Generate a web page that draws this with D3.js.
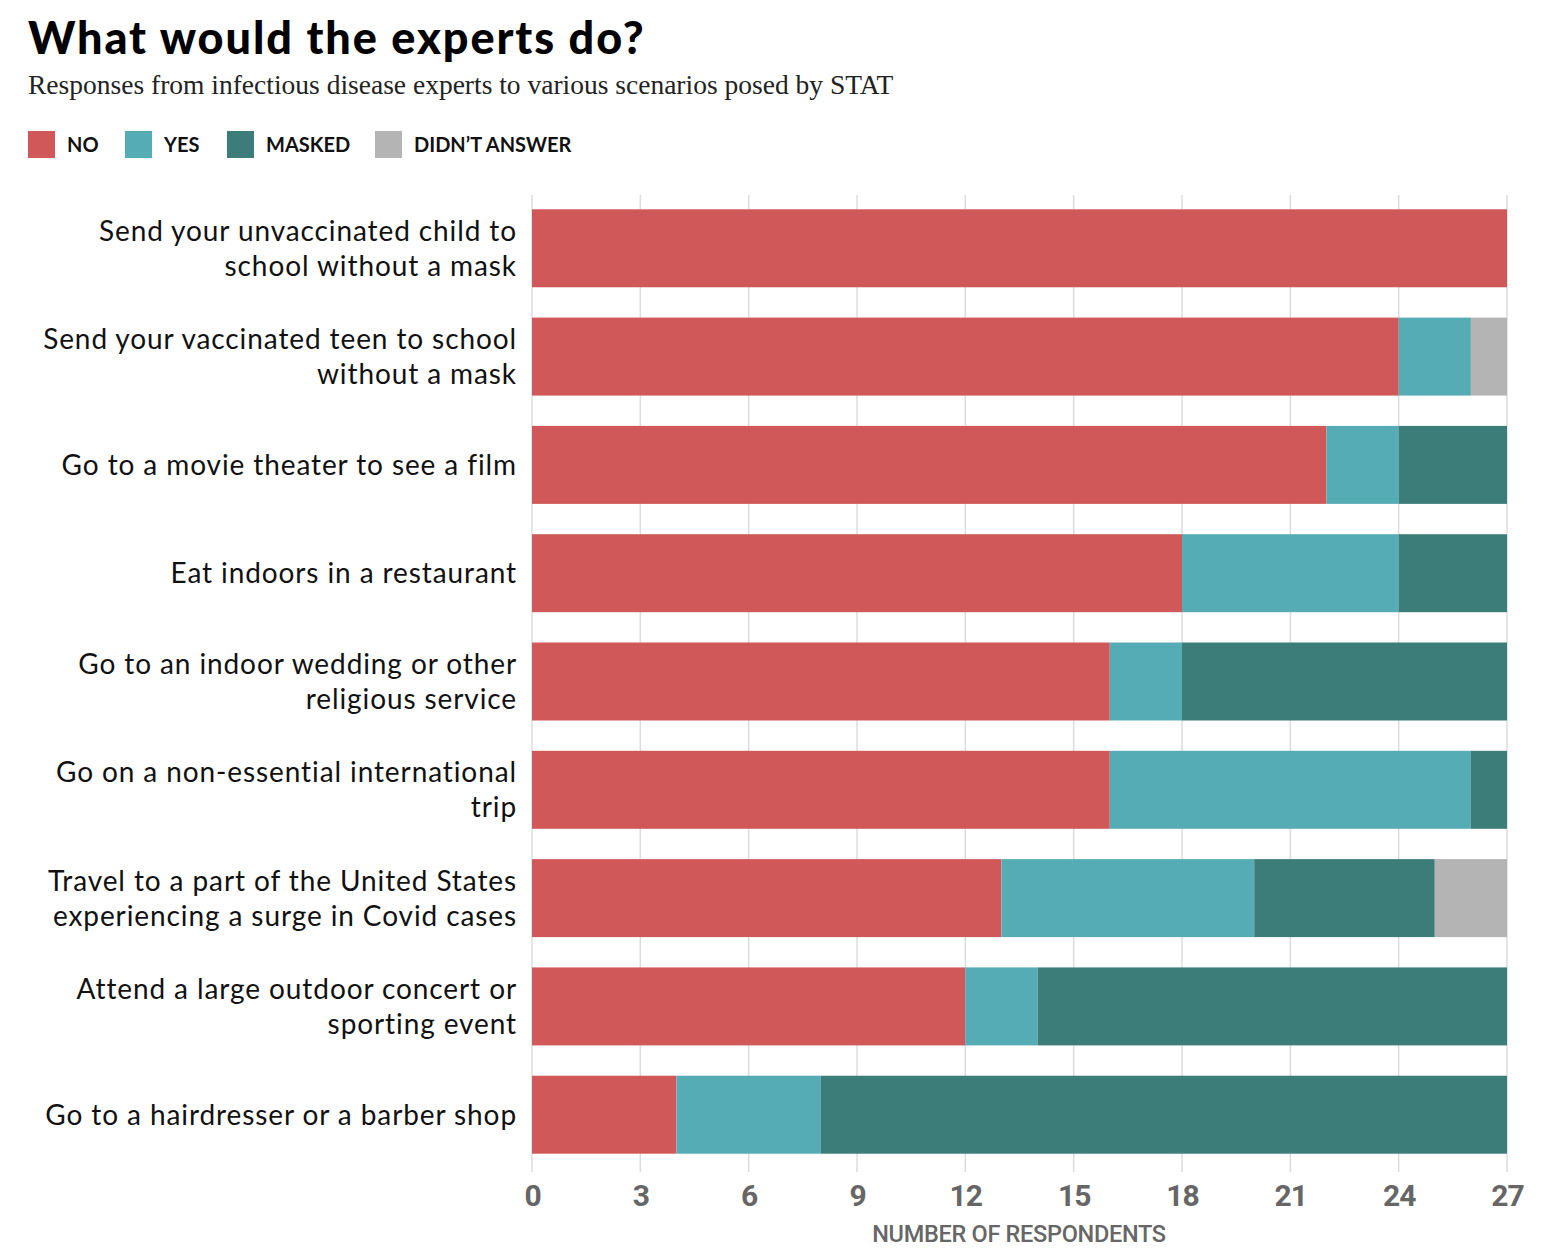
<!DOCTYPE html>
<html><head><meta charset="utf-8">
<script src="https://cdn.jsdelivr.net/npm/d3@7"></script>
<style>
body{margin:0;background:#fff;}
svg{display:block;}
</style></head>
<body>
<svg id="chart" width="1548" height="1250"></svg>
<script>
const categories = [
  ["Send your unvaccinated child to","school without a mask"],
  ["Send your vaccinated teen to school","without a mask"],
  ["Go to a movie theater to see a film"],
  ["Eat indoors in a restaurant"],
  ["Go to an indoor wedding or other","religious service"],
  ["Go on a non-essential international","trip"],
  ["Travel to a part of the United States","experiencing a surge in Covid cases"],
  ["Attend a large outdoor concert or","sporting event"],
  ["Go to a hairdresser or a barber shop"]
];
const seriesNames = ["NO","YES","MASKED","DIDN\u2019T ANSWER"];
const noValues     = [27,24,22,18,16,16,13,12,4];
const yesValues    = [0,2,2,6,2,10,7,2,4];
const maskedValues = [0,0,3,3,9,1,5,13,19];
const didntValues  = [0,1,0,0,0,0,2,0,0];
const colors = ["#d05858","#55acb5","#3c7d7a","#b4b4b4"];
const xTicks = [0,3,6,9,12,15,18,21,24,27];

const svg = d3.select("#chart");
const x = d3.scaleLinear().domain([0,27]).range([532,1507]);
const y = d3.scaleBand().domain(d3.range(categories.length)).range([195,1168]).paddingInner(0.28).paddingOuter(0.132);

// title
svg.append("text").attr("x",28).attr("y",54).text("What would the experts do?")
  .style("font-family","Lato, 'Noto Sans', sans-serif").style("font-weight","900").style("font-size","45px")
  .style("letter-spacing","1.9px").attr("fill","#000");
svg.append("text").attr("x",28).attr("y",94).text("Responses from infectious disease experts to various scenarios posed by STAT")
  .style("font-family","'Liberation Serif', serif").style("font-size","27.5px").attr("fill","#222");

// legend
const legendX = [28,125,227,375];
seriesNames.forEach((s,i)=>{
  svg.append("rect").attr("x",legendX[i]).attr("y",131).attr("width",27).attr("height",27).attr("fill",colors[i]);
  svg.append("text").attr("x",legendX[i]+39).attr("y",152).text(s)
    .style("font-family","Lato, sans-serif").style("font-weight","700").style("font-size","20px").attr("fill","#111");
});

// gridlines
svg.append("g").selectAll("line").data(xTicks).join("line")
  .attr("x1",d=>x(d)).attr("x2",d=>x(d)).attr("y1",195).attr("y2",1172)
  .attr("stroke","#dcdcdc").attr("stroke-width",1.5);

// stacks
const data = categories.map((c,i)=>({i, NO:noValues[i], YES:yesValues[i], MASKED:maskedValues[i], "DIDN\u2019T ANSWER":didntValues[i]}));
const stack = d3.stack().keys(seriesNames)(data);
svg.append("g").selectAll("g").data(stack).join("g").attr("fill",(d,k)=>colors[k])
  .selectAll("rect").data(d=>d).join("rect")
  .attr("x",d=>x(d[0])).attr("width",d=>x(d[1])-x(d[0]))
  .attr("y",(d,j)=>y(j)).attr("height",y.bandwidth());

// category labels
const lab = svg.append("g");
categories.forEach((lines,i)=>{
  const cy = y(i)+y.bandwidth()/2;
  const lh = 35;
  const t = lab.append("text").attr("text-anchor","end")
    .style("font-family","Lato, sans-serif").style("font-size","28px").style("letter-spacing","0.9px").attr("fill","#111");
  lines.forEach((l,k)=>{
    t.append("tspan").attr("x",517).attr("y",cy + (k-(lines.length-1)/2)*lh + 10).text(l);
  });
});

// axis
const axis = d3.axisBottom(x).tickValues(xTicks).tickSize(0).tickPadding(0);
const ag = svg.append("g").attr("transform","translate(0,1206)").call(axis);
ag.select(".domain").remove();
ag.selectAll("text").attr("dy",0).attr("y",0)
  .style("font-family","Roboto, sans-serif").style("font-weight","700").style("font-size","30px")
  .attr("fill","#666").style("letter-spacing","-1px");

svg.append("text").attr("x",1019).attr("y",1242).attr("text-anchor","middle").text("NUMBER OF RESPONDENTS")
  .style("font-family","Roboto, sans-serif").style("font-weight","500").style("font-size","23.5px").attr("fill","#666").style("letter-spacing","-0.3px");
</script>
</body></html>
